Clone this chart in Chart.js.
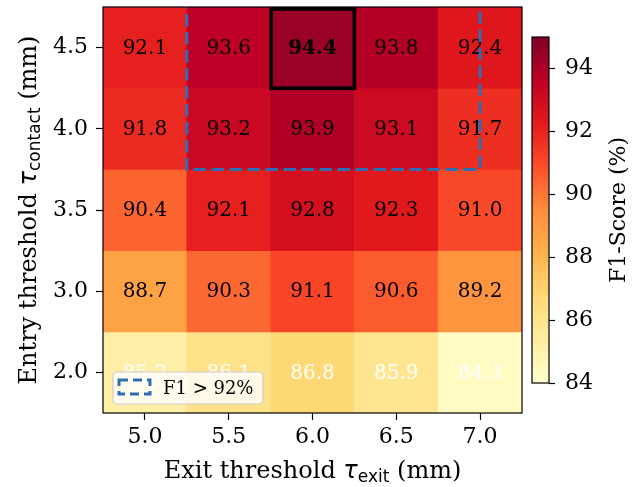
<!DOCTYPE html>
<html><head><meta charset="utf-8">
<script src="https://cdn.jsdelivr.net/npm/chart.js@4/dist/chart.umd.min.js"></script>
<style>
html,body{margin:0;padding:0;background:#fff;}
#wrap{position:relative;width:634px;height:487px;background:#fff;}
canvas{position:absolute;left:0;top:0;}
</style></head><body>
<div id="wrap"><canvas id="main" width="634" height="487"></canvas><canvas id="cbar" width="634" height="487"></canvas></div>
<script>
// ---- data ----
const exitLabels = ['5.0','5.5','6.0','6.5','7.0'];
const entryLabels = ['4.5','4.0','3.5','3.0','2.0'];
const f1_entry45 = [92.1, 93.6, 94.4, 93.8, 92.4];
const f1_entry40 = [91.8, 93.2, 93.9, 93.1, 91.7];
const f1_entry35 = [90.4, 92.1, 92.8, 92.3, 91.0];
const f1_entry30 = [88.7, 90.3, 91.1, 90.6, 89.2];
const f1_entry20 = [85.2, 86.1, 86.8, 85.9, 84.3];
const f1Rows = [f1_entry45, f1_entry40, f1_entry35, f1_entry30, f1_entry20];
const cbarTicks = [84, 86, 88, 90, 92, 94];
const cbarMin = 84, cbarMax = 95;
const legendText = 'F1 > 92%';
const cbarLabel = 'F1-Score (%)';

// ---- styling ----
const SERIF = 'DejaVu Serif';
const ylorrd = ['#ffffcc','#ffeda0','#fed976','#feb24c','#fd8d3c','#fc4e2a','#e31a1c','#bd0026','#800026'];
const regionBlue = '#2f6db3';
function hex2rgb(h){return [parseInt(h.slice(1,3),16),parseInt(h.slice(3,5),16),parseInt(h.slice(5,7),16)];}
function cmap(v){
  let t=(v-cbarMin)/(cbarMax-cbarMin); t=Math.max(0,Math.min(1,t));
  const p=t*(ylorrd.length-1); const i=Math.min(ylorrd.length-2,Math.floor(p)); const f=p-i;
  const a=hex2rgb(ylorrd[i]), b=hex2rgb(ylorrd[i+1]);
  return 'rgb('+a.map((x,k)=>Math.round(x+(b[k]-x)*f)).join(',')+')';
}
// best cell
let best={r:0,c:0,v:-1};
f1Rows.forEach((row,r)=>row.forEach((v,c)=>{if(v>best.v)best={r,c,v};}));

function drawParts(ctx, parts, cx, cy, rot){
  ctx.save();
  ctx.translate(cx,cy); ctx.rotate(rot);
  let total=0;
  parts.forEach(p=>{ctx.font=p.font; p.w=ctx.measureText(p.text).width; total+=p.w;});
  let x=-total/2;
  ctx.textBaseline='alphabetic'; ctx.textAlign='left'; ctx.fillStyle='#000';
  parts.forEach(p=>{ctx.font=p.font; ctx.fillText(p.text,x,p.dy||0); x+=p.w;});
  ctx.restore();
}

const overlay = {
  id:'overlay',
  afterDatasetsDraw(chart){
    const ctx=chart.ctx, xs=chart.scales.x, ys=chart.scales.y, ca=chart.chartArea;
    // annotations
    ctx.save();
    ctx.textAlign='center'; ctx.textBaseline='middle';
    f1Rows.forEach((row,r)=>row.forEach((v,c)=>{
      const isBest = (r===best.r && c===best.c);
      ctx.font=(isBest?'bold ':'')+'20px "'+SERIF+'"';
      ctx.fillStyle = v<87 ? '#ffffff' : '#000000';
      ctx.fillText(v.toFixed(1), xs.getPixelForValue(c), ys.getPixelForValue(r)+1);
    }));
    ctx.restore();
    // region > 92 (dashed)
    ctx.save();
    ctx.beginPath(); ctx.rect(ca.left,ca.top,ca.right-ca.left,ca.bottom-ca.top); ctx.clip();
    ctx.strokeStyle=regionBlue; ctx.lineWidth=3; ctx.setLineDash([12.5,5.5]);
    const rx0=xs.getPixelForValue(0.5), rx1=xs.getPixelForValue(4.0);
    const ry0=ys.getPixelForValue(-0.6), ry1=ys.getPixelForValue(1.5);
    ctx.strokeRect(rx0,ry0,rx1-rx0,ry1-ry0);
    ctx.restore();
    // best cell box
    ctx.save();
    ctx.strokeStyle='#000'; ctx.lineWidth=3.6;
    const bx0=xs.getPixelForValue(best.c-0.5)+0.5, bx1=xs.getPixelForValue(best.c+0.5);
    const by0=ys.getPixelForValue(best.r-0.5)+2, by1=ys.getPixelForValue(best.r+0.5);
    ctx.strokeRect(bx0,by0,bx1-bx0,by1-by0);
    ctx.restore();
    // legend
    ctx.save();
    const lx=ca.left+10, ly=ca.bottom-41, lw=150, lh=32;
    ctx.beginPath();
    if(ctx.roundRect) ctx.roundRect(lx,ly,lw,lh,4); else ctx.rect(lx,ly,lw,lh);
    ctx.fillStyle='rgba(255,255,255,0.8)'; ctx.fill();
    ctx.strokeStyle='#cccccc'; ctx.lineWidth=1.2; ctx.stroke();
    ctx.strokeStyle=regionBlue; ctx.lineWidth=3; ctx.setLineDash([9,5]);
    ctx.strokeRect(lx+6,ly+8,31,14);
    ctx.setLineDash([]);
    ctx.fillStyle='#000'; ctx.font='18px "'+SERIF+'"'; ctx.textBaseline='middle'; ctx.textAlign='left';
    ctx.fillText(legendText,lx+50,ly+lh/2+1);
    ctx.restore();
    // frame
    ctx.save(); ctx.strokeStyle='#000'; ctx.lineWidth=1.2;
    ctx.strokeRect(ca.left,ca.top,ca.right-ca.left,ca.bottom-ca.top); ctx.restore();
    // axis titles
    const cx=(ca.left+ca.right)/2, cy=(ca.top+ca.bottom)/2;
    drawParts(ctx,[
      {text:'Exit threshold ',font:'24px "'+SERIF+'"'},
      {text:'τ',font:'italic 24px "DejaVu Sans"'},
      {text:'exit',font:'17px "DejaVu Sans"',dy:4},
      {text:' (mm)',font:'24px "'+SERIF+'"'}
    ], cx, 478, 0);
    drawParts(ctx,[
      {text:'Entry threshold ',font:'24px "'+SERIF+'"'},
      {text:'τ',font:'italic 24px "DejaVu Sans"'},
      {text:'contact',font:'17px "DejaVu Sans"',dy:4},
      {text:' (mm)',font:'24px "'+SERIF+'"'}
    ], 36, cy, -Math.PI/2);
  }
};

new Chart(document.getElementById('main'),{
  type:'bar',
  data:{
    labels: exitLabels,
    datasets: f1Rows.map((vals,r)=>({
      label: entryLabels[r],
      data: vals.map(()=>[r-0.5, r+0.5]),
      backgroundColor: vals.map(cmap),
      borderWidth:0, grouped:false, barPercentage:1, categoryPercentage:1
    }))
  },
  options:{
    responsive:false, animation:false, events:[],
    layout:{padding:{left:0,right:112,top:7,bottom:0}},
    plugins:{legend:{display:false},tooltip:{enabled:false},title:{display:false}},
    scales:{
      x:{type:'category', offset:true,
        grid:{offset:false, drawOnChartArea:false, drawTicks:true, tickLength:7, tickWidth:1.2, tickColor:'#000', color:'#000'},
        border:{display:false},
        ticks:{font:{family:SERIF,size:22}, color:'#000', padding:4, maxRotation:0, autoSkip:false},
        afterFit(s){s.height=74; s.paddingLeft=0; s.paddingRight=0;}
      },
      y:{type:'linear', min:-0.5, max:4.5, reverse:true,
        afterBuildTicks(s){s.ticks=entryLabels.map((l,i)=>({value:i}));},
        grid:{drawOnChartArea:false, drawTicks:true, tickLength:7, tickWidth:1.2, tickColor:'#000', color:'#000'},
        border:{display:false},
        ticks:{font:{family:SERIF,size:22}, color:'#000', padding:8, callback:(v)=>entryLabels[v]},
        afterFit(s){s.width=103; s.paddingTop=0; s.paddingBottom=0;}
      }
    }
  },
  plugins:[overlay]
});

const cbarPlugin = {
  id:'cbarLabel',
  afterDraw(chart){
    const ctx=chart.ctx, ca=chart.chartArea;
    ctx.save(); ctx.strokeStyle='#000'; ctx.lineWidth=1.2;
    ctx.strokeRect(ca.left,ca.top,ca.right-ca.left,ca.bottom-ca.top); ctx.restore();
    drawParts(ctx,[{text:cbarLabel,font:'22px "'+SERIF+'"'}], 625, (ca.top+ca.bottom)/2, -Math.PI/2);
  }
};
new Chart(document.getElementById('cbar'),{
  type:'bar',
  data:{labels:['F1'],datasets:[{
    data:[[cbarMin,cbarMax]],
    backgroundColor:(c)=>{
      const ch=c.chart; if(!ch.chartArea) return '#fff';
      const y0=ch.scales.y.getPixelForValue(cbarMin), y1=ch.scales.y.getPixelForValue(cbarMax);
      const g=ch.ctx.createLinearGradient(0,y0,0,y1);
      ylorrd.forEach((col,i)=>g.addColorStop(i/(ylorrd.length-1),col));
      return g;
    },
    borderWidth:0, inflateAmount:0, barPercentage:1, categoryPercentage:1
  }]},
  options:{
    responsive:false, animation:false, events:[],
    layout:{padding:{left:532,right:0,top:37,bottom:104}},
    plugins:{legend:{display:false},tooltip:{enabled:false}},
    scales:{
      x:{display:false, offset:true},
      y:{position:'right', min:cbarMin, max:cbarMax,
        afterBuildTicks(s){s.ticks=cbarTicks.map(v=>({value:v}));},
        grid:{drawOnChartArea:false, drawTicks:true, tickLength:6, tickWidth:1.2, tickColor:'#000', color:'#000'},
        border:{display:false},
        ticks:{font:{family:SERIF,size:22}, color:'#000', padding:10},
        afterFit(s){s.width=85; s.paddingTop=0; s.paddingBottom=0;}
      }
    }
  },
  plugins:[cbarPlugin]
});
</script>
</body></html>
